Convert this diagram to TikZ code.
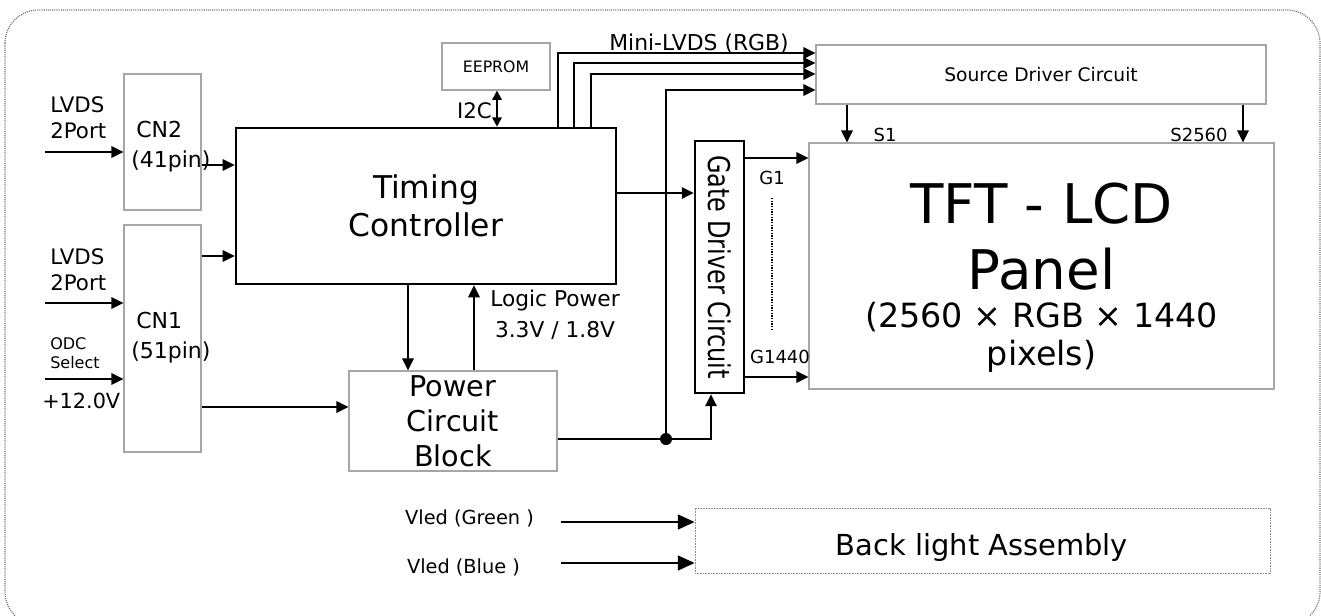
\documentclass[tikz,border=0pt]{standalone}
\usepackage{fontspec}
\usepackage{graphicx}
\setmainfont{DejaVu Sans}
\usetikzlibrary{arrows.meta}
\newcommand{\fsz}[2]{\fontsize{#1}{#2}\selectfont}

\begin{document}
\begin{tikzpicture}[x=0.75pt, y=-0.75pt,
  gbox/.style={draw=black!35, line width=0.8pt, inner sep=0pt},
  tbox/.style={draw=black, line width=2pt, inner sep=0pt},
  lbl/.style={inner sep=0pt, align=left},
  sig/.style={line width=1.6pt, -{Triangle[length=9pt, width=8.5pt]}},
  bigsig/.style={line width=1.6pt, -{Triangle[length=12.5pt, width=11pt]}}]
\useasboundingbox (0,0) rectangle (1321,615);
\draw[black!55, line width=0.9pt, dash pattern=on 0.8pt off 0.8pt, rounded corners=25pt] (5,10) rectangle (1320,625);

% blocks
\node[gbox, minimum width=57.75pt, minimum height=102pt] (cn2) at (162.5,142) {};
\node[gbox, minimum width=57.75pt, minimum height=170.25pt] (cn1) at (162.5,338.5) {};
\node[tbox, minimum width=285pt, minimum height=117pt, font=\fsz{23.5}{28.5}, align=center] (tc) at (426,206) {Timing\\Controller};
\node[gbox, minimum width=81pt, minimum height=35.25pt, font=\fsz{11.8}{14}] (eeprom) at (496,66.5) {EEPROM};
\node[gbox, minimum width=337.5pt, minimum height=44.25pt, font=\fsz{14}{17}] (src) at (1041,74.5) {Source Driver Circuit};
\node[gbox, minimum width=348.75pt, minimum height=184.5pt] (panel) at (1041.5,266) {};
\node[tbox, line width=1.8pt, minimum width=36.75pt, minimum height=189pt] (gate) at (719.5,267) {};
\node[gbox, minimum width=156pt, minimum height=75pt, font=\fsz{21.5}{26.25}, align=center] (pcb) at (453,421) {Power\\Circuit\\Block};
\node[gbox, draw=black!45, line width=0.6pt, dash pattern=on 0.6pt off 0.6pt, minimum width=431.25pt, minimum height=48.75pt] (bla) at (982.5,540.5) {};

% texts
\node[inner sep=0pt, font=\fsz{21.7}{26}] (blatxt) at (982,548) {Back light Assembly};
\node[inner sep=0pt, font=\fsz{41}{49.5}, align=center] (ptitle) at (1041.5,237) {TFT - LCD\\Panel};
\node[inner sep=0pt, font=\fsz{25}{28.5}, align=center] (psub) at (1041.5,337) {(2560 × RGB × 1440\\pixels)};
\node[inner sep=0pt, rotate=-90, font=\fsz{22.5}{26}] (gatetxt) at (719.5,267) {\scalebox{0.8}[1]{Gate Driver Circuit}};
\node[lbl, anchor=west, font=\fsz{16}{19.5}] (lvdsa) at (50,118) {LVDS\\2Port};
\node[lbl, anchor=west, font=\fsz{16}{19.5}] (lvdsb) at (50,269.5) {LVDS\\2Port};
\node[lbl, anchor=west, font=\fsz{12}{14.25}] (odc) at (50,353) {ODC\\Select};
\node[lbl, anchor=west, font=\fsz{15.6}{18}] (vin) at (42,400.5) {+12.0V};
\node[lbl, anchor=west, font=\fsz{16.5}{22.5}] (cn2txt) at (131,147) {\hspace*{3.75pt}CN2\\(41pin)};
\node[lbl, anchor=west, font=\fsz{16.5}{22.5}] (cn1txt) at (131,337.5) {\hspace*{3.75pt}CN1\\(51pin)};
\node[lbl, font=\fsz{16}{19}] (i2c) at (474.5,111) {I2C};
\node[lbl, font=\fsz{16.4}{19}] (mini) at (699,44) {Mini-LVDS (RGB)};
\node[lbl, align=center, font=\fsz{16.3}{23}] (logic) at (555,315) {Logic Power\\3.3V / 1.8V};
\node[lbl, font=\fsz{13.5}{16}] (g1) at (772,178) {G1};
\node[lbl, font=\fsz{13.5}{16}] (g1440) at (780,357) {G1440};
\node[lbl, font=\fsz{13.5}{16}] (s1) at (885,135) {S1};
\node[lbl, font=\fsz{13.5}{16}] (s2560) at (1199,135) {S2560};
\node[lbl, font=\fsz{14.5}{17}] (vledg) at (469.5,518.5) {Vled (Green )};
\node[lbl, font=\fsz{14.5}{17}] (vledb) at (463.5,567) {Vled (Blue )};

% free ends
\coordinate (in1) at (45,152);
\coordinate (in2) at (45,303);
\coordinate (in3) at (45,379);
\coordinate (jn) at (666,439);
\coordinate (vg) at (561,522);
\coordinate (vb) at (561,563);

% connectors
\draw[sig] (in1) -- (cn2.west |- in1);
\draw[sig] (in2) -- (cn1.west |- in2);
\draw[sig] (in3) -- (cn1.west |- in3);
\draw[sig] (cn2.east |- 0,165) -- (tc.west |- 0,165);
\draw[sig] (cn1.east |- 0,256) -- (tc.west |- 0,256);
\draw[sig] (cn1.east |- 0,407) -- (pcb.west |- 0,407);
\draw[sig] (tc.south -| 408,0) -- (pcb.north -| 408,0);
\draw[sig] (pcb.north -| 474,0) -- (tc.south -| 474,0);
\draw[line width=1.6pt, {Triangle[length=7pt, width=7pt]}-{Triangle[length=7pt, width=7pt]}] (eeprom.south -| 497,0) -- (tc.north -| 497,0);
\foreach \x/\y in {558/53, 574/63, 591/74}
  \draw[sig] (tc.north -| \x,0) |- (src.west |- 0,\y);
\draw[line width=1.6pt] (pcb.east |- jn) -- (jn);
\draw[sig] (jn) -| (gate.south -| 711,0);
\draw[sig] (jn) |- (src.west |- 0,90);
\fill (jn) circle [radius=4.5pt];
\draw[sig] (tc.east |- 0,193) -- (gate.west |- 0,193);
\draw[sig] (gate.east |- 0,158) -- (panel.west |- 0,158);
\draw[sig] (gate.east |- 0,377) -- (panel.west |- 0,377);
\draw[line width=1.3pt, dash pattern=on 1pt off 1pt] (772,198) -- (772,330);
\draw[sig] (src.south -| 847,0) -- (panel.north -| 847,0);
\draw[sig] (src.south -| 1243,0) -- (panel.north -| 1243,0);
\draw[bigsig] (vg) -- (bla.west |- vg);
\draw[bigsig] (vb) -- (bla.west |- vb);
\end{tikzpicture}
\end{document}
